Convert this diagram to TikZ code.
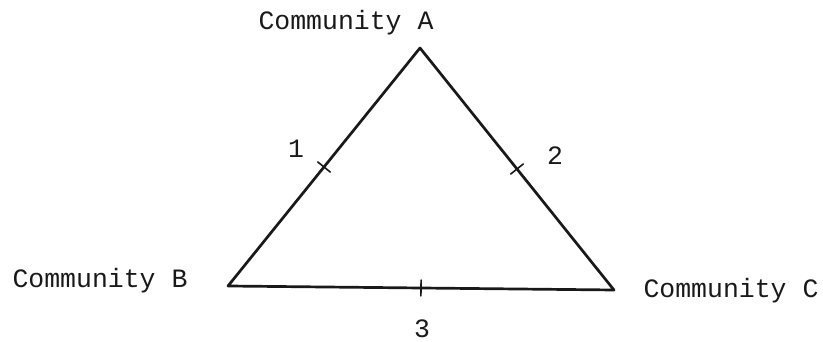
\documentclass[tikz,border=0pt]{standalone}
\usepackage{fontspec}
\setmonofont{Liberation Mono}
\usepackage{tikz}
\usetikzlibrary{calc,positioning}
\tikzset{
  every picture/.style={line cap=round, line join=round},
  lbl/.style={font=\ttfamily\fontsize{26.5}{28}\selectfont, text=black!90, inner sep=0pt},
  edge/.style={black!90, line width=2.7pt},
  tick/.style={black!90, line width=1.6pt},
}

\begin{document}
\begin{tikzpicture}[x=1pt, y=1pt]
\useasboundingbox (0,0) rectangle (823,342);
% ------------------------------------------------------------- corners
\coordinate (A) at (420,294);
\coordinate (B) at (228,56);
\coordinate (C) at (614,52);
\draw[edge] (A) -- (B) -- (C) -- cycle;
% ------------------------------------------------------------- ticks
\coordinate (m1) at ($(A)!0.5!(B)$);
\coordinate (m2) at ($(A)!0.5!(C)$);
\coordinate (m3) at ($(B)!0.5!(C)$);
\foreach \m/\e in {m1/A, m2/A, m3/C}
  \draw[tick] ($(\m)!8pt!90:(\e)$) -- ($(\m)!8pt!-90:(\e)$);
% ------------------------------------------------------------- labels
\node[lbl, anchor=base] (commA) at (346,312) {Community A};
\node[lbl, anchor=base] (commB) at (100,54) {Community B};
\node[lbl, anchor=base] (commC) at (731,44) {Community C};
\node[lbl, anchor=base] (one) at (296,184) {1};
\node[lbl, anchor=base] (two) at (555,177) {2};
\node[lbl, anchor=base] (three) at (422,4) {3};
\end{tikzpicture}
\end{document}
